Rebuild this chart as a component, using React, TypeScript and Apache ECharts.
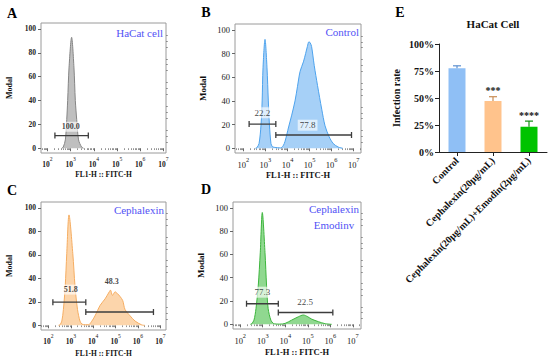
import React, { useEffect, useRef } from "react";
import * as echarts from "echarts";

const SERIF = "Liberation Serif, serif";

// ---------- Flow cytometry histograms: [log10(FITC-H), Modal %] ----------
const histA: number[][] = [
  [2.62, 0], [2.68, 1], [2.77, 7], [2.83, 24], [2.87, 40], [2.93, 68], [3.04, 93],
  [3.14, 68], [3.2, 40], [3.26, 24], [3.34, 7], [3.47, 1], [3.55, 0],
];
const histB: number[][] = [
  [2.55, 0], [2.61, 0.5], [2.71, 4], [2.8, 20], [2.85, 40], [2.89, 68], [2.98, 92],
  [3.07, 68], [3.13, 40], [3.18, 20], [3.25, 4], [3.31, 1.5], [3.4, 0.8], [3.55, 0.5],
  [3.68, 0.3], [3.8, 2], [3.89, 6], [4.05, 18], [4.19, 28], [4.34, 40], [4.45, 52],
  [4.57, 65], [4.72, 73], [4.82, 80], [4.9, 86], [4.97, 90], [5.03, 89], [5.09, 86],
  [5.21, 70], [5.36, 53], [5.55, 33], [5.7, 19], [5.88, 10], [6.07, 4], [6.3, 1], [6.5, 0],
];
const histC: number[][] = [
  [2.45, 0], [2.52, 0.5], [2.6, 3.6], [2.67, 13.5], [2.75, 33], [2.82, 61], [2.92, 94],
  [3.09, 61], [3.19, 33], [3.3, 13.5], [3.41, 3.6], [3.5, 1], [3.65, 0.5], [3.79, 0.5],
  [3.92, 3], [4.08, 8], [4.31, 17], [4.53, 22.5], [4.72, 28.6], [4.77, 30], [4.86, 25.5],
  [4.98, 28.5], [5.08, 27], [5.2, 24.5], [5.32, 21], [5.42, 13.5], [5.65, 8], [5.87, 3.6],
  [6.17, 0.3], [6.3, 0],
];
const histD: number[][] = [
  [2.45, 0], [2.51, 0.5], [2.61, 3.6], [2.7, 13.5], [2.8, 33], [2.89, 61.5], [2.98, 96],
  [3.1, 61.5], [3.17, 33], [3.24, 13.5], [3.36, 3.6], [3.47, 0.8], [3.6, 0.3], [3.76, 0.2],
  [3.99, 0.8], [4.28, 3.6], [4.58, 6.5], [4.8, 8], [5.0, 6.5], [5.17, 4.5], [5.47, 2.3],
  [5.76, 0.6], [6.06, 0],
];

// Gates: [from log10, to log10, level]
const gatesA: number[][] = [[2.32, 3.76, 10.6]];
const gatesB: number[][] = [[2.26, 3.47, 20.4], [3.47, 6.9, 11.2]];
const gatesC: number[][] = [[2.2, 3.67, 19.7], [3.67, 6.69, 11.3]];
const gatesD: number[][] = [[2.28, 3.69, 17.7], [3.69, 6.11, 10.1]];

// Gate percentages: [x, y, text]
const gateLabelsA: (number | string)[][] = [[3.0, 18, "100.0"]];
const gateLabelsB: (number | string)[][] = [[2.86, 30, "22.2"], [4.91, 19.5, "77.8"]];
const gateLabelsC: (number | string)[][] = [[3.0, 30.4, "51.8"], [4.83, 37, "48.3"]];
const gateLabelsD: (number | string)[][] = [[2.98, 27.6, "77.3"], [4.88, 19, "22.5"]];

const sampleNames = ["HaCat cell", "Control", "Cephalexin", "Cephalexin\nEmodinv"];
const panelLetters = ["A", "B", "C", "D", "E"];

const xTickExps = [2, 3, 4, 5, 6, 7];
const yTicks = [0, 20, 40, 60, 80, 100];

// ---------- Bar chart ----------
const barCategories = [
  "Control",
  "Cephalexin(20μg/mL)",
  "Cephalexin(20μg/mL)+Emodin(2μg/mL)",
];
const barMeans = [77.5, 47.2, 23.4];
const barErrors = [2.3, 4.0, 5.2];
const barSig = ["", "***", "****"];

const barColors = ["#8fbff5", "#ffc38c", "#00c300"];
const errColors = ["#5c8fcf", "#c98d55", "#138f13"];

// ---------- layout / styles ----------
const panels = [
  { grid: { left: 41, top: 23, width: 125, height: 130 }, xr: [1.72, 7.11], hist: histA, gates: gatesA, labels: gateLabelsA,
    line: "#858585", fill: "#bfbfbf", fs: 7.5, bold: true, gapX: 17, gapY: 28, nameFs: 7.5, gfs: 8 },
  { grid: { left: 235, top: 24, width: 126, height: 129 }, xr: [1.62, 7.33], hist: histB, gates: gatesB, labels: gateLabelsB,
    line: "#4da3ee", fill: "#a6d0f7", fs: 8.5, bold: false, gapX: 15, gapY: 28, nameFs: 8.5, gfs: 9 },
  { grid: { left: 41, top: 202, width: 125, height: 128 }, xr: [1.67, 7.25], hist: histC, gates: gatesC, labels: gateLabelsC,
    line: "#f5ad62", fill: "#fcd5ab", fs: 7.5, bold: true, gapX: 19, gapY: 28, nameFs: 7.5, gfs: 8 },
  { grid: { left: 233, top: 202, width: 128, height: 127 }, xr: [1.68, 7.36], hist: histD, gates: gatesD, labels: gateLabelsD,
    line: "#3db53d", fill: "#90d890", fs: 8.5, bold: false, gapX: 18, gapY: 28, nameFs: 8.5, gfs: 9 },
];

function minorX(lo: number, hi: number): number[] {
  const out: number[] = [];
  for (let n = 1; n <= 7; n++) {
    for (let k = 2; k <= 9; k++) {
      const v = n + Math.log10(k);
      if (v > lo && v < hi) out.push(v);
    }
  }
  return out;
}
function minorY(): number[] {
  const out: number[] = [];
  for (let v = 5; v <= 100; v += 5) if (v % 20 !== 0) out.push(v);
  return out;
}

function buildOption() {
  const grids: any[] = [];
  const xAxes: any[] = [];
  const yAxes: any[] = [];
  const series: any[] = [];

  panels.forEach((p, i) => {
    grids.push({ ...p.grid, show: true, borderColor: "#9a9a9a", borderWidth: 1, backgroundColor: "#fff" });
    const fw = p.bold ? "bold" : "normal";
    const xi = xAxes.length;
    xAxes.push({
      type: "value", gridIndex: i, min: p.xr[0], max: p.xr[1], position: "bottom",
      axisLine: { show: false }, splitLine: { show: false },
      axisTick: { show: true, customValues: xTickExps, length: 3, lineStyle: { color: "#666", width: 1 } },
      axisLabel: {
        customValues: xTickExps, margin: 3,
        formatter: (v: number) => `{b|10}{s|${v}}`,
        rich: {
          b: { fontSize: p.fs, fontFamily: SERIF, color: "#222", fontWeight: fw, lineHeight: p.fs * 1.6, verticalAlign: "bottom" },
          s: { fontSize: p.fs * 0.75, fontFamily: SERIF, color: "#222", lineHeight: p.fs * 0.8, verticalAlign: "top" },
        },
      },
      name: "FL1-H :: FITC-H", nameLocation: "middle", nameGap: p.gapX,
      nameTextStyle: { fontFamily: SERIF, fontSize: p.nameFs, fontWeight: "bold", color: "#111" },
    });
    xAxes.push({
      type: "value", gridIndex: i, min: p.xr[0], max: p.xr[1], position: "bottom",
      axisLine: { show: false }, splitLine: { show: false },
      axisTick: { show: true, customValues: minorX(p.xr[0], p.xr[1]), length: 1.8, lineStyle: { color: "#777", width: 0.8 } },
      axisLabel: { show: false },
    });
    const yi = yAxes.length;
    yAxes.push({
      type: "value", gridIndex: i, min: -4, max: 105,
      axisLine: { show: false }, splitLine: { show: false },
      axisTick: { show: true, customValues: yTicks, length: 3, lineStyle: { color: "#666", width: 1 } },
      axisLabel: { customValues: yTicks, margin: 5, fontFamily: SERIF, fontSize: p.fs, fontWeight: fw, color: "#222" },
      name: "Modal", nameLocation: "middle", nameGap: p.gapY, nameRotate: 90,
      nameTextStyle: { fontFamily: SERIF, fontSize: p.nameFs + 0.5, fontWeight: "bold", color: "#111" },
    });
    yAxes.push({
      type: "value", gridIndex: i, min: -4, max: 105,
      axisLine: { show: false }, splitLine: { show: false },
      axisTick: { show: true, customValues: minorY(), length: 1.8, lineStyle: { color: "#777", width: 0.8 } },
      axisLabel: { show: false },
    });

    series.push({
      type: "line", xAxisIndex: xi, yAxisIndex: yi, data: p.hist, smooth: 0.3, symbol: "none",
      lineStyle: { color: p.line, width: 1 }, areaStyle: { color: p.fill, opacity: 1, origin: "auto" },
      z: 2,
    });
    p.gates.forEach((g) => {
      series.push({
        type: "line", xAxisIndex: xi, yAxisIndex: yi,
        data: [[g[0], g[2]], [g[1], g[2]]],
        symbol: "rect", symbolSize: [1.3, 6],
        itemStyle: { color: "#3c3c3c" }, lineStyle: { color: "#3c3c3c", width: 1.4 }, z: 4,
      });
    });
    series.push({
      type: "scatter", xAxisIndex: xi, yAxisIndex: yi, data: p.labels, symbolSize: 1,
      itemStyle: { color: "rgba(0,0,0,0)" }, z: 5,
      label: {
        show: true, position: [0.5, 0.5], align: "center", verticalAlign: "middle",
        formatter: (pp: any) => pp.value[2],
        fontFamily: SERIF, fontSize: p.gfs, fontWeight: p.bold ? "bold" : "normal", color: "#111",
        backgroundColor: "rgba(255,255,255,0.8)", padding: [1, 2],
      },
    });
  });

  // Bar chart panel E
  const gi = grids.length;
  grids.push({ left: 439, top: 44, width: 108, height: 108 });
  const bx = xAxes.length;
  xAxes.push({
    type: "category", gridIndex: gi, data: barCategories,
    axisLine: { show: true, lineStyle: { color: "#222", width: 1 } },
    axisTick: { show: true, alignWithLabel: true, length: 4, lineStyle: { color: "#222" } },
    axisLabel: { rotate: 45, margin: 7, fontFamily: SERIF, fontSize: 10, fontWeight: "bold", color: "#111", interval: 0 },
  });
  const by = yAxes.length;
  yAxes.push({
    type: "value", gridIndex: gi, min: 0, max: 100, interval: 25,
    axisLine: { show: true, lineStyle: { color: "#222", width: 1 } },
    axisTick: { show: true, length: 4, lineStyle: { color: "#222" } },
    splitLine: { show: false },
    axisLabel: { formatter: "{value}%", margin: 5, fontFamily: SERIF, fontSize: 10, fontWeight: "bold", color: "#111" },
    name: "Infection rate", nameLocation: "middle", nameGap: 38, nameRotate: 90,
    nameTextStyle: { fontFamily: SERIF, fontSize: 10, fontWeight: "bold", color: "#111" },
  });
  series.push({
    type: "bar", xAxisIndex: bx, yAxisIndex: by, barWidth: 17,
    data: barMeans.map((v, i) => ({ value: v, itemStyle: { color: barColors[i] } })),
    z: 2,
  });
  series.push({
    type: "custom", xAxisIndex: bx, yAxisIndex: by,
    data: barMeans.map((m, i) => [i, m, barErrors[i]]),
    renderItem: (params: any, api: any) => {
      const idx = params.dataIndex;
      const x = api.value(0);
      const m = api.value(1);
      const e = api.value(2);
      const p0 = api.coord([x, m]);
      const p1 = api.coord([x, m + e]);
      const c = errColors[idx];
      return {
        type: "group",
        children: [
          { type: "line", shape: { x1: p0[0], y1: p0[1], x2: p1[0], y2: p1[1] }, style: { stroke: c, lineWidth: 1.2 } },
          { type: "line", shape: { x1: p1[0] - 4, y1: p1[1], x2: p1[0] + 4, y2: p1[1] }, style: { stroke: c, lineWidth: 1.2 } },
          {
            type: "text", x: p1[0], y: p1[1] - 1,
            style: { text: barSig[idx], align: "center", verticalAlign: "bottom", fontFamily: SERIF, fontSize: 10, fontWeight: "bold", fill: "#111" },
          },
        ],
      };
    },
    z: 3,
  });

  const letterPos = [[12, 13], [206, 12], [12, 190], [206, 189], [400, 12.5]];
  const graphics: any[] = letterPos.map((pp, i) => ({
    type: "text", x: pp[0], y: pp[1],
    style: { text: panelLetters[i], align: "center", verticalAlign: "middle", fontFamily: SERIF, fontSize: 14, fontWeight: "bold", fill: "#000" },
  }));
  const blue = "#5252f5";
  graphics.push({ type: "text", x: 163, y: 33, style: { text: sampleNames[0], align: "right", verticalAlign: "middle", fontFamily: SERIF, fontSize: 11, fill: blue } });
  graphics.push({ type: "text", x: 359, y: 32, style: { text: sampleNames[1], align: "right", verticalAlign: "middle", fontFamily: SERIF, fontSize: 11, fill: blue } });
  graphics.push({ type: "text", x: 164, y: 210, style: { text: sampleNames[2], align: "right", verticalAlign: "middle", fontFamily: SERIF, fontSize: 11, fill: blue } });
  graphics.push({ type: "text", x: 334, y: 217, style: { text: sampleNames[3], align: "center", verticalAlign: "middle", fontFamily: SERIF, fontSize: 11, lineHeight: 16, fill: blue } });
  graphics.push({ type: "text", x: 493, y: 23.5, style: { text: "HaCat Cell", align: "center", verticalAlign: "middle", fontFamily: SERIF, fontSize: 11, fontWeight: "bold", fill: "#111" } });

  return {
    animation: false,
    backgroundColor: "#fff",
    grid: grids,
    xAxis: xAxes,
    yAxis: yAxes,
    series,
    graphic: graphics,
  };
}

export default function App() {
  const ref = useRef<HTMLDivElement>(null);
  useEffect(() => {
    document.body.style.margin = "0";
    if (!ref.current) return;
    const chart = echarts.init(ref.current, undefined, { renderer: "svg" });
    chart.setOption(buildOption() as any);
    return () => chart.dispose();
  }, []);
  return <div ref={ref} style={{ width: 550, height: 363 }} />;
}
